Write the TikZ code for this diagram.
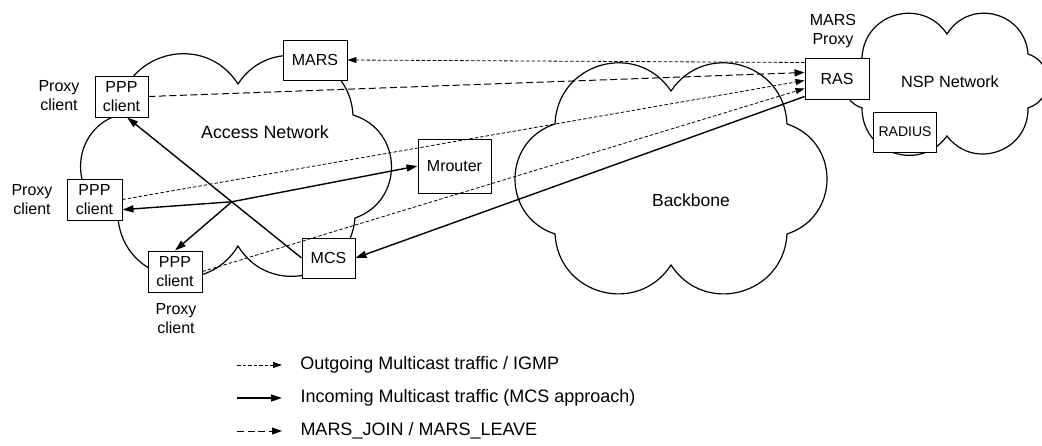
\documentclass[tikz,border=0pt]{standalone}
\usepackage{fontspec}
\setmainfont{Liberation Sans}
\usetikzlibrary{arrows.meta,calc}

% one puff of a cloud, from dip #1 to dip #2
\newcommand\puff[2]{.. controls ($(#1)!0.51!72:(#2)$) and ($(#2)!0.51!-72:(#1)$) .. (#2)}

\tikzset{
  cloudline/.style={line width=1.2pt},
  netbox/.style={draw, fill=white, line width=0.9pt, align=center, inner sep=0pt, font=\fontsize{16}{19}\selectfont},
  lbl/.style={align=center, inner sep=0pt, font=\fontsize{16}{19}\selectfont},
  legtext/.style={lbl, anchor=west, xshift=18pt, font=\fontsize{18}{21}\selectfont},
  igmp/.style={dash pattern=on 3.5pt off 2pt, line width=0.8pt, -{Triangle[length=9pt,width=6pt]}},
  marsjoin/.style={dash pattern=on 7pt off 3.5pt, line width=1pt, -{Triangle[length=10pt,width=7pt]}},
  incoming/.style={line width=1.4pt, -{Triangle[length=11pt,width=7pt]}},
}

\begin{document}
\begin{tikzpicture}[x=1pt,y=-1pt]
  \useasboundingbox (0,0) rectangle (1042,446);
  % clouds
  \draw[cloudline] (238,84) \puff{238,84}{353,115} \puff{353,115}{355,218} \puff{355,218}{238,246}
    \puff{238,246}{118,218} \puff{118,218}{118,115} \puff{118,115}{238,84} -- cycle;
  \draw[cloudline] (671,91) \puff{671,91}{787,124} \puff{787,124}{787,234} \puff{787,234}{671,265}
    \puff{671,265}{555,234} \puff{555,234}{555,124} \puff{555,124}{671,91} -- cycle;
  \draw[cloudline] (947,34) \puff{947,34}{1028,54} \puff{1028,54}{1028,108} \puff{1028,108}{947,136}
    \puff{947,136}{862,108} \puff{862,108}{862,58} \puff{862,58}{947,34} -- cycle;
  \node[lbl, font=\fontsize{17.8}{21}\selectfont] (accesstxt) at (265,132) {Access Network};
  \node[lbl, font=\fontsize{17.5}{21}\selectfont] (backbonetxt) at (691,200) {Backbone};
  \node[lbl, font=\fontsize{16.3}{19}\selectfont] (nsptxt) at (950,82) {NSP Network};

  % boxes
  \node[netbox, minimum width=64pt, minimum height=40pt] (mars) at (315,60) {MARS};
  \node[netbox, minimum width=53pt, minimum height=41pt] (ppp1) at (121.5,96.5) {PPP\\client};
  \node[netbox, minimum width=55pt, minimum height=41pt] (ppp2) at (94.5,199.5) {PPP\\client};
  \node[netbox, minimum width=54pt, minimum height=41pt] (ppp3) at (175,271.5) {PPP\\client};
  \node[netbox, minimum width=73pt, minimum height=54pt] (mrouter) at (454.5,166) {Mrouter};
  \node[netbox, minimum width=53pt, minimum height=40pt] (mcs) at (328.5,258) {MCS};
  \node[netbox, minimum width=64pt, minimum height=41pt] (ras) at (837,78.5) {RAS};
  \node[netbox, minimum width=63pt, minimum height=40pt, font=\fontsize{14}{17}\selectfont] (radius) at (905,132) {RADIUS};

  \node[lbl] (proxy1) at (59,96) {Proxy\\client};
  \node[lbl] (proxy2) at (32,200) {Proxy\\client};
  \node[lbl] (proxy3) at (176,319) {Proxy\\client};
  \node[lbl] (marsproxy) at (833,31) {MARS\\Proxy};

  % outgoing / join
  \draw[igmp] ($(ras.west)+(0,-16)$) -- (mars.east);
  \draw[marsjoin] (ppp1.east) -- ($(ras.west)+(0,-6)$);
  \draw[igmp] (ppp2.east) -- ($(ras.west)+(0,2)$);
  \draw[igmp] (ppp3.east) -- ($(ras.west)+(0,10)$);

  % incoming
  \coordinate (j) at ($(mcs.west)!0.4!(ppp1.-75)$);
  \draw[incoming] ($(ras.west)+(0,18)$) -- (mcs.east);
  \draw[incoming] (mcs.west) -- (ppp1.-75);
  \draw[incoming] (j) -- (ppp2.-20);
  \draw[incoming] (j) -- (ppp3.north);
  \draw[incoming] (j) -- (mrouter.west);

  % legend
  \coordinate (l1) at (237,365);
  \coordinate (l2) at (237,398);
  \coordinate (l3) at (237,431);
  \draw[igmp] (l1) -- +(45,0) node[legtext] (t1) {Outgoing Multicast traffic / IGMP};
  \draw[incoming] (l2) -- +(45,0) node[legtext] (t2) {Incoming Multicast traffic (MCS approach)};
  \draw[marsjoin] (l3) -- +(45,0) node[legtext] (t3) {MARS\_JOIN / MARS\_LEAVE};
\end{tikzpicture}
\end{document}
